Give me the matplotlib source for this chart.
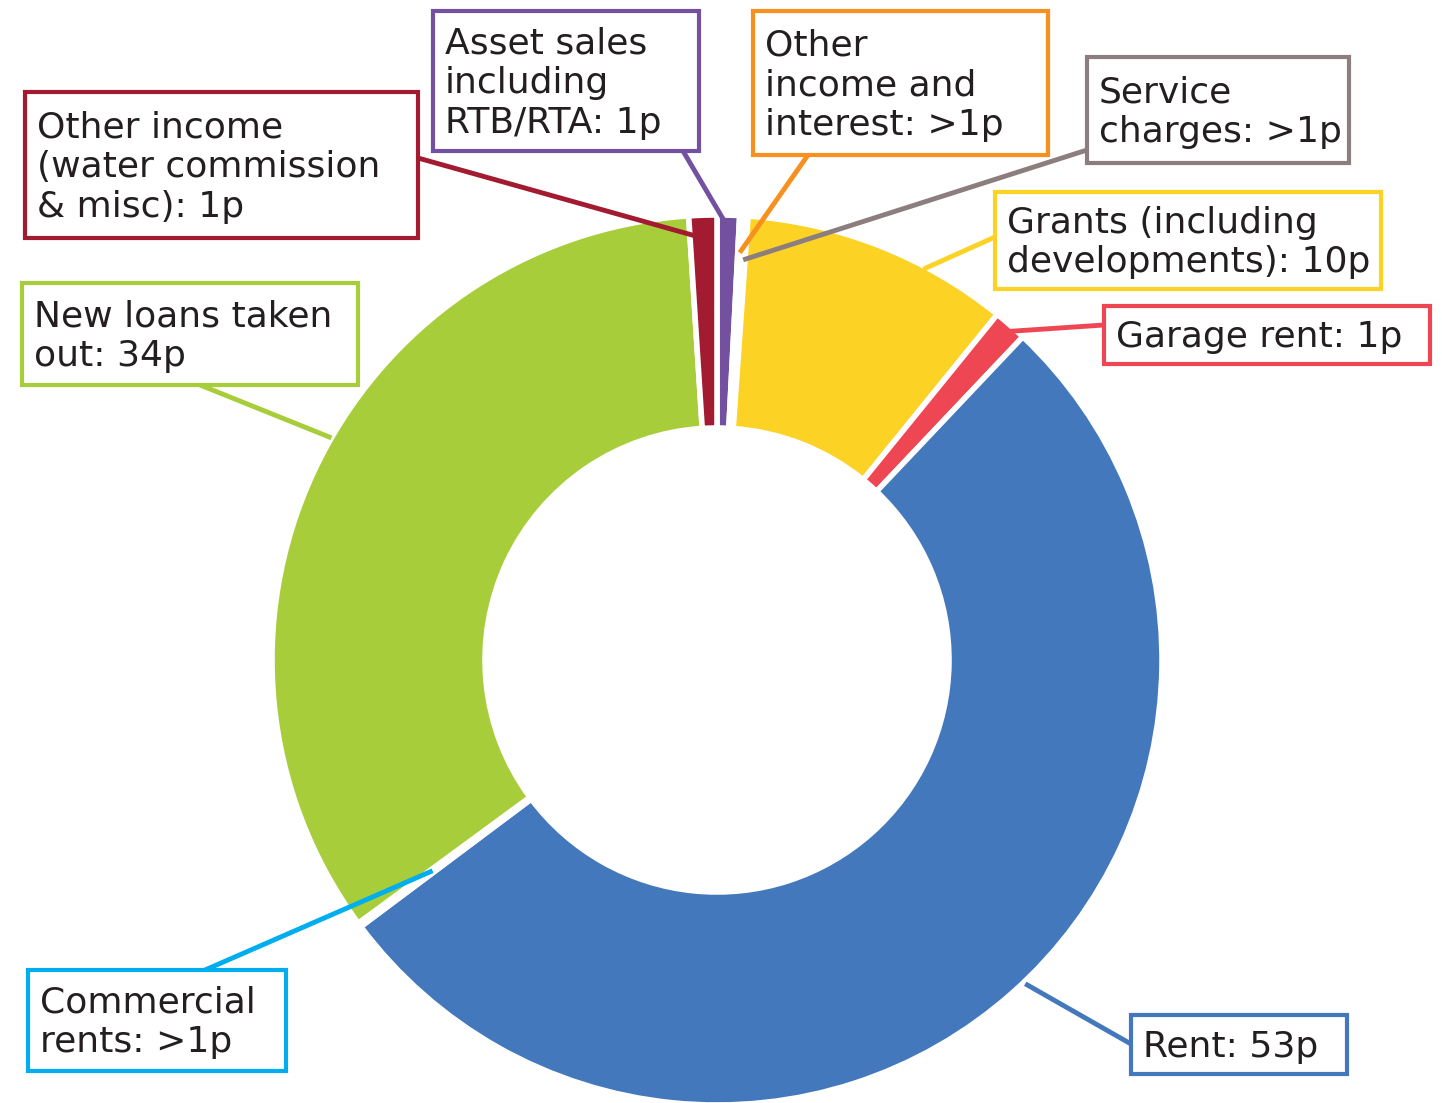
import numpy as np
import matplotlib.pyplot as plt
from matplotlib.patches import Rectangle

# donut values (pence in the pound), clockwise from 12 o'clock
labels = [
    "Asset sales\nincluding\nRTB/RTA: 1p",
    "Other\nincome and\ninterest: >1p",
    "Service\ncharges: >1p",
    "Grants (including\ndevelopments): 10p",
    "Garage rent: 1p",
    "Rent: 53p",
    "Commercial\nrents: >1p",
    "New loans taken\nout: 34p",
    "Other income\n(water commission\n& misc): 1p",
]
values = [0.8, 0.15, 0.15, 9.6, 1.2, 52.0, 0.15, 33.6, 1.0]
colors = ["#7351A0", "#F7901E", "#8C7E7E", "#FCD225", "#EF4654",
          "#4379BC", "#00AEEF", "#A7CE3A", "#A21B30"]

# label boxes in pixel coords (x0, y0, x1, y1), leader start, anchor (fraction of wedge, radius)
boxes = [(433, 11, 699, 151), (753, 11, 1048, 155), (1087, 57, 1349, 163),
         (995, 192, 1381, 289), (1104, 306, 1430, 364), (1131, 1015, 1347, 1074),
         (28, 970, 286, 1071), (22, 283, 358, 385), (25, 92, 418, 238)]
starts = [(683, 151), (808, 155), (1087, 150), (995, 237), (1104, 325),
          (1131, 1044), (205, 970), (200, 385), (418, 158)]
anchors = [(0.3, 440), (0.5, 408), (0.5, 401), (0.68, 442), (0.6, 440),
           (0.49, 447), (0.5, 354), (0.54, 445), (0.5, 422)]

W, H = 1442, 1103
cx, cy, R, r_in = 717, 660, 445, 232

fig = plt.figure(figsize=(W / 100, H / 100), dpi=100)
ax = fig.add_axes([0, 0, 1, 1])

# y axis is inverted, so start at -90 and go "counterclockwise" to look clockwise
wedges, _ = ax.pie(values, colors=colors, startangle=-90, counterclock=True,
                   radius=R, center=(cx, cy), frame=True,
                   wedgeprops=dict(width=R - r_in, edgecolor="white", linewidth=4))
ax.set_xlim(0, W)
ax.set_ylim(H, 0)
ax.set_aspect("equal")
ax.axis("off")

for w, lab, col, box, st, (f, rad) in zip(wedges, labels, colors, boxes, starts, anchors):
    ang = np.deg2rad(w.theta1 + f * (w.theta2 - w.theta1))
    px, py = cx + rad * np.cos(ang), cy + rad * np.sin(ang)
    ax.plot([st[0], px], [st[1], py], color=col, lw=3.5, solid_capstyle="butt", zorder=3)
    x0, y0, x1, y1 = box
    ax.add_patch(Rectangle((x0, y0), x1 - x0, y1 - y0, facecolor="white",
                           edgecolor=col, lw=3, zorder=4))
    ax.text(x0 + 12, (y0 + y1) / 2 + 2, lab, ha="left", va="center", fontsize=26,
            color="#231F20", linespacing=1.22, zorder=5, family="DejaVu Sans")

fig.savefig("out.png", dpi=100)
